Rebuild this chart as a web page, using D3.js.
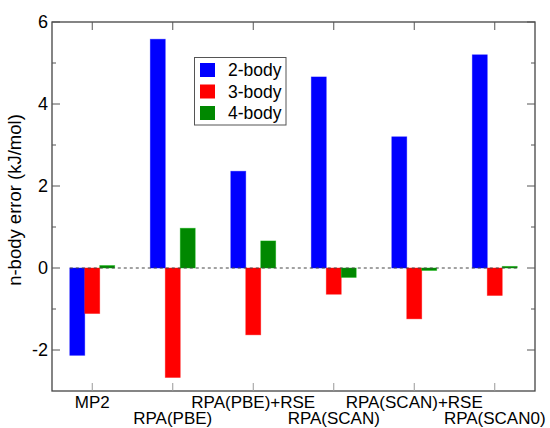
<!DOCTYPE html>
<html>
<head>
<meta charset="utf-8">
<script src="https://cdn.jsdelivr.net/npm/d3@7.9.0/dist/d3.min.js"></script>
<style>
  body { margin: 0; background: #fff; }
  svg { display: block; font-family: "Liberation Sans", Arial, sans-serif; }
</style>
</head>
<body>
<svg id="chart" width="550" height="428"></svg>
<script>
// data
const methods = ["MP2", "RPA(PBE)", "RPA(PBE)+RSE", "RPA(SCAN)", "RPA(SCAN)+RSE", "RPA(SCAN0)"];
const series = ["2-body", "3-body", "4-body"];
const colors = ["#0000ff", "#ff0000", "#008800"];
const twoBody = [-2.13, 5.58, 2.36, 4.66, 3.20, 5.20];
const threeBody = [-1.11, -2.67, -1.63, -0.64, -1.24, -0.67];
const fourBody = [0.06, 0.97, 0.66, -0.23, -0.06, 0.04];
const yTicks = [-2, 0, 2, 4, 6];
const yMinor = [-1, 1, 3, 5];

const values = [twoBody, threeBody, fourBody];

const svg = d3.select('#chart');
const mLeft = 52, mRight = 535, mTop = 22, mBottom = 391;

const x = d3.scaleLinear().domain([0, methods.length]).range([mLeft, mRight]);
const y = d3.scaleLinear().domain([-3, 6]).range([mBottom, mTop]);
const barW = 0.186; // in category units

// bars
series.forEach((s, si) => {
  svg.append('g').selectAll('rect')
    .data(values[si])
    .join('rect')
    .attr('x', (d, i) => x(i + 0.5 + (si - 1.5) * barW))
    .attr('width', x(barW) - x(0))
    .attr('y', d => y(Math.max(0, d)))
    .attr('height', d => Math.abs(y(d) - y(0)))
    .attr('fill', colors[si])
    .attr('stroke', d3.color(colors[si]).brighter(0.8))
    .attr('stroke-opacity', 0.5)
    .attr('stroke-width', 0.8);
});

// zero line across bars
svg.append('line')
  .attr('x1', x(0.5 - 1.5 * barW)).attr('x2', x(methods.length - 0.5 + 1.5 * barW))
  .attr('y1', y(0)).attr('y2', y(0))
  .attr('stroke', '#444').attr('stroke-width', 1)
  .attr('stroke-dasharray', '3,3');

// frame
svg.append('rect')
  .attr('x', mLeft).attr('y', mTop)
  .attr('width', mRight - mLeft).attr('height', mBottom - mTop)
  .attr('fill', 'none').attr('stroke', '#444').attr('stroke-width', 1.3);

// y ticks (inward, both sides)
const tickG = svg.append('g').attr('stroke', '#555').attr('stroke-width', 1);
yTicks.forEach(t => {
  tickG.append('line').attr('x1', mLeft).attr('x2', mLeft + 8).attr('y1', y(t)).attr('y2', y(t));
  tickG.append('line').attr('x1', mRight).attr('x2', mRight - 8).attr('y1', y(t)).attr('y2', y(t));
});
yMinor.forEach(t => {
  tickG.append('line').attr('x1', mLeft).attr('x2', mLeft + 4).attr('y1', y(t)).attr('y2', y(t));
  tickG.append('line').attr('x1', mRight).attr('x2', mRight - 4).attr('y1', y(t)).attr('y2', y(t));
});
// x ticks (inward, top and bottom)
methods.forEach((m, i) => {
  tickG.append('line').attr('x1', x(i + 0.5)).attr('x2', x(i + 0.5)).attr('y1', mBottom).attr('y2', mBottom - 8).attr('stroke', '#999');
  tickG.append('line').attr('x1', x(i + 0.5)).attr('x2', x(i + 0.5)).attr('y1', mTop).attr('y2', mTop + 8);
});

// y tick labels
svg.append('g').selectAll('text')
  .data(yTicks)
  .join('text')
  .attr('x', mLeft - 4)
  .attr('y', d => y(d))
  .attr('dy', '0.36em')
  .attr('text-anchor', 'end')
  .attr('font-size', 18)
  .text(d => d);

// category labels, staggered
svg.append('g').selectAll('text')
  .data(methods)
  .join('text')
  .attr('x', (d, i) => x(i + 0.5))
  .attr('y', (d, i) => i % 2 === 0 ? 408 : 424)
  .attr('text-anchor', 'middle')
  .attr('font-size', 17)
  .text(d => d);

// y axis title
svg.append('text')
  .attr('transform', `translate(21,200) rotate(-90)`)
  .attr('text-anchor', 'middle')
  .attr('font-size', 18.5)
  .text('n-body error (kJ/mol)');

// legend
const legend = svg.append('g');
legend.append('rect')
  .attr('x', 194.5).attr('y', 57.5).attr('width', 91.5).attr('height', 67.5)
  .attr('fill', '#fff').attr('stroke', '#555').attr('stroke-width', 1);
series.forEach((s, i) => {
  const cy = 70 + i * 21.5;
  legend.append('rect')
    .attr('x', 200).attr('y', cy - 7).attr('width', 15).attr('height', 14)
    .attr('fill', colors[i]);
  legend.append('text')
    .attr('x', 228).attr('y', cy).attr('dy', '0.36em')
    .attr('font-size', 17.5)
    .text(s);
});
</script>
</body>
</html>
